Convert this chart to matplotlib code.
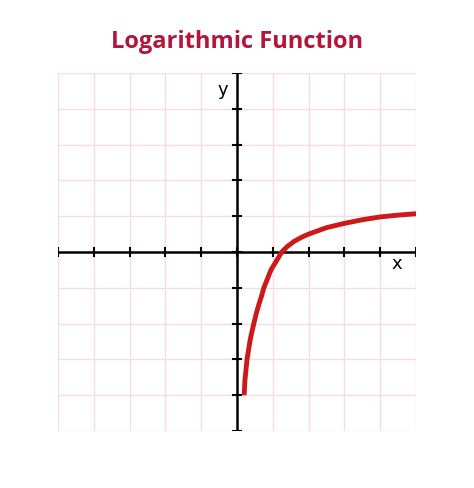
import matplotlib
matplotlib.use("Agg")
import matplotlib.pyplot as plt

title = "Logarithmic Function"
curve_x = [0.2, 0.22, 0.25, 0.28, 0.32, 0.36, 0.4, 0.47, 0.53, 0.6, 0.68, 0.75, 0.85, 0.95, 1.1, 1.25, 1.4, 1.6, 1.8, 2.0, 2.5, 3.0, 3.5, 4.0, 4.5, 5.0]
curve_y = [-4.0, -3.6, -3.3, -3.0, -2.75, -2.5, -2.3, -2.0, -1.75, -1.5, -1.25, -1.0, -0.75, -0.5, -0.25, 0.0, 0.15, 0.3, 0.41, 0.5, 0.68, 0.8, 0.9, 0.98, 1.03, 1.07]
ticks = [-5, -4, -3, -2, -1, 0, 1, 2, 3, 4, 5]

fig = plt.figure(figsize=(4.74, 4.89), dpi=100)
ax = fig.add_axes([58/474, (489-432)/489, 358/474, 358/489])
ax.set_xlim(-5, 5)
ax.set_ylim(-5, 5)
for t in ticks:
    ax.axvline(t, color="#f5dbe5", lw=1, zorder=0)
    ax.axhline(t, color="#f5dbe5", lw=1, zorder=0)
for s in ax.spines.values():
    s.set_visible(False)
ax.set_xticks([]); ax.set_yticks([])
ax.plot([-5, 5], [0, 0], color="black", lw=1.8, zorder=2)
ax.plot([0, 0], [-5, 5], color="black", lw=1.8, zorder=2)
for t in ticks:
    ax.plot([t, t], [-0.12, 0.12], color="black", lw=1.5, zorder=2)
    ax.plot([-0.12, 0.12], [t, t], color="black", lw=1.5, zorder=2)
ax.plot(curve_x, curve_y, color="#cc1a1a", lw=3.5, solid_capstyle="butt", zorder=3)
ax.text(4.45, -0.3, "x", fontsize=13, ha="center", va="center")
ax.text(-0.4, 4.55, "y", fontsize=13, ha="center", va="center")
fig.text(0.5, 1 - 42/489, title, ha="center", va="center", fontsize=17,
         fontweight="bold", color="#b3163c", family="Open Sans")
fig.savefig("out.png", dpi=100, facecolor="white")
